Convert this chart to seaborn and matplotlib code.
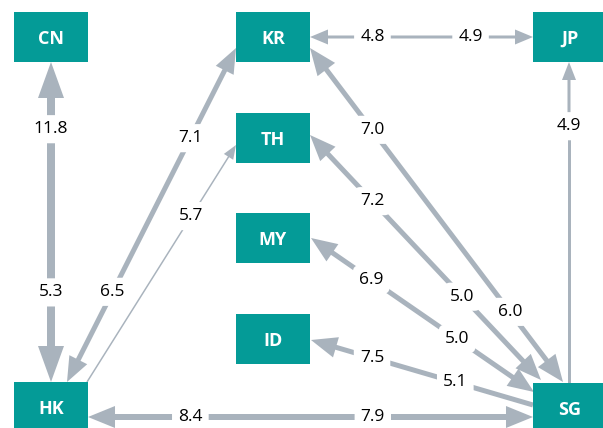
import numpy as np
import pandas as pd
import matplotlib
matplotlib.use("Agg")
import matplotlib.pyplot as plt
import seaborn as sns
from matplotlib.patches import FancyArrowPatch

# %%
# data: nodes and flows between them
nodes = ["CN", "KR", "JP", "TH", "MY", "ID", "HK", "SG"]

edge_a = ["CN", "KR", "KR", "KR", "TH", "MY", "ID", "HK", "JP", "TH"]
edge_b = ["HK", "JP", "HK", "SG", "SG", "SG", "SG", "SG", "SG", "HK"]
value_a = [11.8, 4.8, 7.1, 7.0, 7.2, 6.9, 7.5, 8.4, 4.9, 5.7]   # label nearer end a
value_b = [5.3, 4.9, 6.5, 6.0, 5.0, 5.0, 5.1, 7.9, None, None]  # label nearer end b
head_a = [True, True, True, True, True, True, True, True, True, True]
head_b = [True, True, True, True, True, True, False, True, False, False]

# %%
# layout (pixel units, y down)
node_xy = {"CN": (51, 37), "KR": (273, 37), "JP": (570, 37), "TH": (273, 138),
           "MY": (273, 238), "ID": (273, 339), "HK": (51, 407), "SG": (570, 408)}
end_a_xy = [(51, 62), (310, 37), (236, 48), (310, 48), (310, 135),
            (311, 238), (311, 340), (88, 417), (569, 62), (236, 145)]
end_b_xy = [(51, 382), (533, 37), (67, 382), (563, 382), (541, 380),
            (534, 392), (533, 405), (533, 417), (569, 383), (87, 382)]
t_lab_a = [0.21, 0.28, 0.27, 0.245, 0.27, 0.27, 0.275, 0.23, 0.2, 0.30]
t_lab_b = [0.72, 0.72, 0.73, 0.79, 0.66, 0.655, 0.65, 0.64, None, None]
line_px = [8, 3, 5, 5, 5, 5, 5, 6, 3, 1.5]
head_w_px = [26, 15, 20, 22, 21, 21, 21, 22, 14, 11]
head_l_px = [36, 18, 25, 27, 26, 26, 26, 27, 18, 14]

teal = "#049b97"
grey = "#a9b3bd"
PT = 0.72  # px -> pt at dpi 100
box_w, box_h = 74, 50

sns.set_style("white")
plt.rcParams["font.family"] = ["Open Sans", "DejaVu Sans"]

fig = plt.figure(figsize=(6.03, 4.28), dpi=100)
ax = fig.add_axes([0, 0, 1, 1])


def half(p_from, p_to, lw, hw, hl, head):
    if head:
        arr = FancyArrowPatch(p_from, p_to,
                              arrowstyle=f"simple,head_length={hl*PT},head_width={hw*PT},tail_width={lw*PT}",
                              mutation_scale=1, shrinkA=0, shrinkB=0,
                              color=grey, lw=0, zorder=2)
        ax.add_patch(arr)
    else:
        ax.plot([p_from[0], p_to[0]], [p_from[1], p_to[1]], color=grey,
                lw=lw * PT, solid_capstyle="butt", zorder=2)


lab_box = dict(boxstyle="round,pad=0.35", fc="white", ec="none")
for i in range(len(edge_a)):
    pa = np.array(end_a_xy[i], float)
    pb = np.array(end_b_xy[i], float)
    m = pa + t_lab_a[i] * (pb - pa)
    half(m, pa, line_px[i], head_w_px[i], head_l_px[i], head_a[i])
    half(m, pb, line_px[i], head_w_px[i], head_l_px[i], head_b[i])
    ax.text(m[0], m[1], f"{value_a[i]:.1f}", ha="center", va="center",
            fontsize=12.5, color="black", bbox=lab_box, zorder=4)
    if value_b[i] is not None:
        q = pa + t_lab_b[i] * (pb - pa)
        ax.text(q[0], q[1], f"{value_b[i]:.1f}", ha="center", va="center",
                fontsize=12.5, color="black", bbox=lab_box, zorder=4)

# boxes
node_df = pd.DataFrame({"node": nodes,
                        "x": [node_xy[n][0] for n in nodes],
                        "y": [node_xy[n][1] for n in nodes]})
box_marker = [(-box_w / 2, -box_h / 2), (box_w / 2, -box_h / 2),
              (box_w / 2, box_h / 2), (-box_w / 2, box_h / 2), (-box_w / 2, -box_h / 2)]
sns.scatterplot(data=node_df, x="x", y="y", marker=box_marker,
                s=(box_w * PT) ** 2, color=teal, linewidth=0, ax=ax,
                zorder=5, legend=False)
for _, r in node_df.iterrows():
    ax.text(r["x"], r["y"], r["node"], ha="center", va="center_baseline",
            color="white", fontsize=13, fontweight="bold", zorder=6)

ax.set_xlim(0, 603)
ax.set_ylim(428, 0)
ax.axis("off")
fig.savefig("out.png", dpi=100)
